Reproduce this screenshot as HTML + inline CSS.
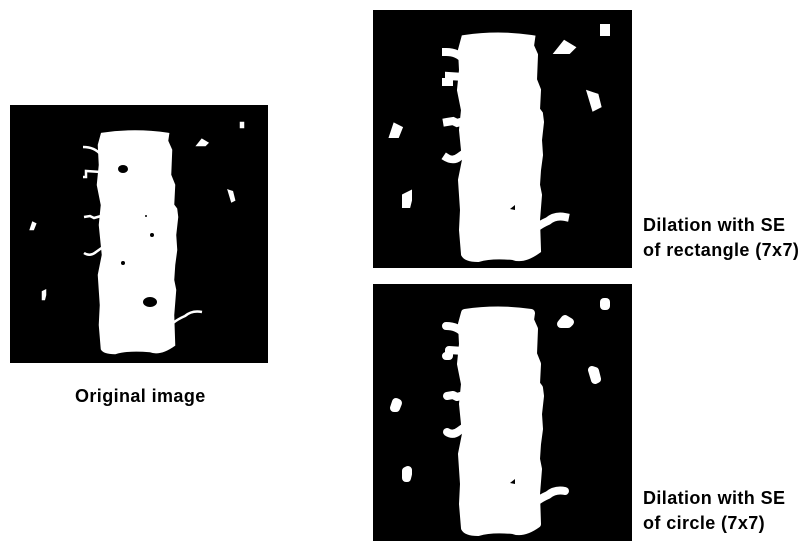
<!DOCTYPE html>
<html><head><meta charset="utf-8"><style>
html,body{margin:0;padding:0;background:#fff;}
body{width:804px;height:545px;overflow:hidden;position:relative;font-family:"Liberation Sans",sans-serif;}
.lbl{position:absolute;font-weight:bold;font-size:18px;color:#000;white-space:nowrap;line-height:25px;letter-spacing:0.4px;}
</style></head><body>
<svg width="804" height="545" style="position:absolute;left:0;top:0">
<defs>
<g id="shape">
  <path d="M92,29 Q125,24 158,29 L157,36 L161,45 L160,70 L164,80 L163,100 L166,104 L167,112 L165,130 L166,145 L164,160 L163,175 L165,185 L163,210 L164,240 Q150,250 140,246 Q118,244 105,248 Q94,248 92,244 L90,220 L91,200 L89,170 L93,150 L90,120 L92,100 L88,80 L90,60 L89,40 Z"/>
  <path d="M73,42 Q85,42 91,50" fill="none"/>
  <path d="M73,72 L76,72 L76,66 L91,67" fill="none"/>
  <path d="M74,112 L80,111 L84,113 L91,111" fill="none"/>
  <path d="M74,148 Q80,152 86,147 L93,142" fill="none"/>
  <path d="M163,218 Q168,214 175,211 Q182,205 192,207" fill="none"/>
  <rect x="231" y="18" width="2" height="4"/>
  <path d="M188,40 L192,35 L197,38 L195,40 Z"/>
  <path d="M219,86 L222,87 L224,95 L222,96 Z"/>
  <path d="M21,124 L23,118 L25,119 L23,124 Z"/>
  <path d="M33,187 L35,186 L35,190 L34,194 L33,194 Z"/>
</g>
<g id="holes" fill="#000">
  <ellipse cx="113" cy="64" rx="5" ry="4"/>
  <ellipse cx="140" cy="197" rx="7" ry="5"/>
  <circle cx="142" cy="130" r="2"/>
  <circle cx="113" cy="158" r="2"/>
  <circle cx="136" cy="111" r="1"/>
</g>
</defs>
<g transform="translate(10,105)">
  <rect width="258" height="258" fill="#000"/>
  <use href="#shape" fill="#fff" stroke="#fff" stroke-width="2.5"/>
  <use href="#holes"/>
</g>
<g transform="translate(373,10)">
  <rect width="259" height="258" fill="#000"/>
  <use href="#shape" fill="#fff" stroke="#fff" stroke-width="8" stroke-linejoin="miter" stroke-linecap="square"/>
  <path d="M137,199 L142,195 L142,200 Z" fill="#000"/>
</g>
<g transform="translate(373,284)">
  <rect width="259" height="257" fill="#000"/>
  <use href="#shape" fill="#fff" stroke="#fff" stroke-width="8" stroke-linejoin="round" stroke-linecap="round"/>
  <path d="M137,199 L142,195 L142,200 Z" fill="#000"/>
</g>
</svg>
<div class="lbl" style="left:75px;top:384px;">Original image</div>
<div class="lbl" style="left:643px;top:213px;">Dilation with SE<br>of rectangle (7x7)</div>
<div class="lbl" style="left:643px;top:486px;">Dilation with SE<br>of circle (7x7)</div>
</body></html>
